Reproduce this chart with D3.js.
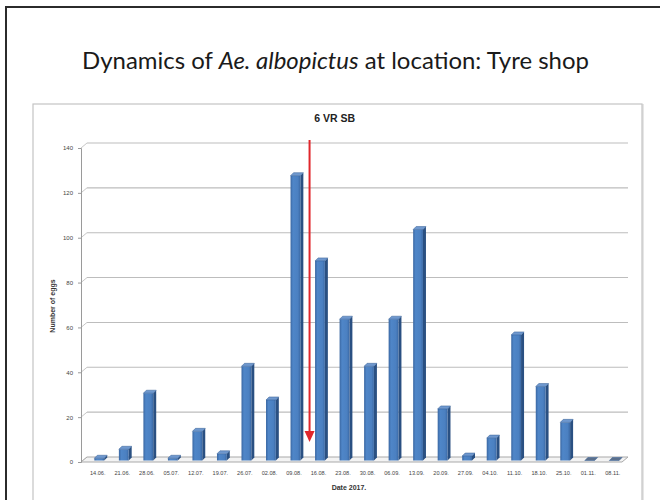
<!DOCTYPE html>
<html>
<head>
<meta charset="utf-8">
<script src="https://cdn.jsdelivr.net/npm/d3@7"></script>
<style>
  html, body { margin: 0; padding: 0; background: #fff; }
  svg { display: block; }
</style>
</head>
<body>
<svg id="chart" width="660" height="500"></svg>
<script>
// Weekly egg counts of Ae. albopictus, ovitrap at the tyre shop, 2017
const dates = ["14.06.", "21.06.", "28.06.", "05.07.", "12.07.", "19.07.", "26.07.", "02.08.",
               "09.08.", "16.08.", "23.08.", "30.08.", "06.09.", "13.09.", "20.09.", "27.09.",
               "04.10.", "11.10.", "18.10.", "25.10.", "01.11.", "08.11."];
const eggs = [1, 5, 30, 1, 13, 3, 42, 27, 127, 89, 63, 42, 63, 103, 23, 2, 10, 56, 33, 17, 0, 0];
const yTicks = [0, 20, 40, 60, 80, 100, 120, 140];
const treatmentDate = "16.08.";
const treatmentLabel = "6 VR SB";

const svg = d3.select("#chart");

// Slide frame and chart box
svg.append("rect").attr("x", 6).attr("y", 7).attr("width", 720).attr("height", 600)
  .attr("fill", "none").attr("stroke", "#2b2b2b").attr("stroke-width", 2);
svg.append("rect").attr("x", 34).attr("y", 105).attr("width", 609).attr("height", 500)
  .attr("fill", "none").attr("stroke", "#e6e6e6").attr("stroke-width", 2);
svg.append("rect").attr("x", 33).attr("y", 104).attr("width", 609).attr("height", 500)
  .attr("fill", "#fff").attr("stroke", "#c4c4c4").attr("stroke-width", 1.2);

// Title with italic species name
const title = svg.append("text")
  .attr("x", 335.5).attr("y", 69)
  .attr("text-anchor", "middle")
  .attr("font-family", "Lato, 'Open Sans', sans-serif")
  .attr("font-size", 20)
  .attr("fill", "#1a1a1a");
title.append("tspan").text("Dynamics of ");
title.append("tspan").attr("font-style", "italic").text("Ae. albopictus");
title.append("tspan").text(" at location: Tyre shop");
const tw = title.node().getComputedTextLength();
title.attr("font-size", 20 * 507 / tw);

// Scales
const x = d3.scaleBand().domain(dates).range([85.5, 625]).paddingInner(0.6).paddingOuter(0.3);
const y = d3.scaleLinear().domain([0, 140]).range([462, 148]);
const bw = x.bandwidth();
const depth = 6;     // wall/floor depth offset
const bd = 3;        // bar depth offset
const axisX = 81;
const rightX = 622;

// Side wall diagonals + back-wall gridlines
const g = svg.append("g");
yTicks.forEach(v => {
  g.append("line")
    .attr("x1", axisX).attr("y1", y(v)).attr("x2", axisX + depth).attr("y2", y(v) - depth + 1)
    .attr("stroke", "#c8c8c8").attr("stroke-width", 1);
  if (v > 0) {
    g.append("line")
      .attr("x1", axisX + depth).attr("y1", y(v) - depth + 1)
      .attr("x2", rightX + depth).attr("y2", y(v) - depth + 1)
      .attr("stroke", "#bdbdbd").attr("stroke-width", 1.1);
  }
});

// Floor
g.append("path")
  .attr("d", `M${axisX},${y(0)} L${rightX},${y(0)} L${rightX + depth},${y(0) - depth + 1} L${axisX + depth},${y(0) - depth + 1} Z`)
  .attr("fill", "#f3f3f3").attr("stroke", "#a9a9a9").attr("stroke-width", 1);

// Y axis
const yAxis = d3.axisLeft(y).tickValues(yTicks).tickSize(3).tickPadding(5);
const ya = svg.append("g").attr("transform", `translate(${axisX},0)`).call(yAxis);
ya.select(".domain").attr("stroke", "#9a9a9a");
ya.selectAll(".tick line").attr("stroke", "#9a9a9a");
ya.selectAll("text").attr("font-family", "'Liberation Sans', Arial, sans-serif")
  .attr("font-size", 6).attr("fill", "#444");

// X axis labels
const xAxis = d3.axisBottom(x).tickSize(0).tickPadding(9);
const xa = svg.append("g").attr("transform", `translate(0,${y(0)})`).call(xAxis);
xa.select(".domain").remove();
xa.selectAll("text").attr("font-family", "'Liberation Sans', Arial, sans-serif")
  .attr("font-size", 5.6).attr("fill", "#444");

// Bar gradient
const defs = svg.append("defs");
const grad = defs.append("linearGradient").attr("id", "barFront").attr("x1", "0").attr("x2", "1").attr("y1", "0").attr("y2", "0");
grad.append("stop").attr("offset", "0%").attr("stop-color", "#3a67a2");
grad.append("stop").attr("offset", "25%").attr("stop-color", "#4f86c8");
grad.append("stop").attr("offset", "75%").attr("stop-color", "#4b80c1");
grad.append("stop").attr("offset", "100%").attr("stop-color", "#3b69a5");

// 3D bars
const ox = 1.5, oy = -1.5;   // bars sit in the middle of the floor depth
const bars = svg.append("g").selectAll("g").data(dates.map((d, i) => ({ d, v: eggs[i] }))).join("g");
bars.append("path")   // side face
  .attr("d", b => {
    const x0 = x(b.d) + bw + ox, yt = y(b.v) + oy, yb = y(0) + oy;
    return `M${x0},${yt} L${x0 + bd},${yt - bd} L${x0 + bd},${yb - bd} L${x0},${yb} Z`;
  })
  .attr("fill", "#2a5082");
bars.append("rect")   // front face
  .attr("x", b => x(b.d) + ox).attr("y", b => y(b.v) + oy)
  .attr("width", bw).attr("height", b => y(0) - y(b.v))
  .attr("fill", "url(#barFront)");
bars.append("path")   // top face
  .attr("d", b => {
    const x0 = x(b.d) + ox, yt = y(b.v) + oy;
    return `M${x0},${yt} L${x0 + bd},${yt - bd} L${x0 + bw + bd},${yt - bd} L${x0 + bw},${yt} Z`;
  })
  .attr("fill", b => b.v === 0 ? "#5a6f8c" : "#6f98ce")
  .attr("stroke", "#345f95").attr("stroke-width", 0.5);

// Axis titles
svg.append("text")
  .attr("transform", "translate(55,306) rotate(-90)")
  .attr("text-anchor", "middle")
  .attr("font-family", "'Liberation Sans', Arial, sans-serif")
  .attr("font-size", 7).attr("font-weight", "bold").attr("fill", "#333")
  .text("Number of eggs");
svg.append("text")
  .attr("x", 349).attr("y", 489.5)
  .attr("text-anchor", "middle")
  .attr("font-family", "'Liberation Sans', Arial, sans-serif")
  .attr("font-size", 7).attr("font-weight", "bold").attr("fill", "#333")
  .text("Date 2017.");

// Treatment marker: red arrow and label
const ax = x(treatmentDate) - 4;
svg.append("line")
  .attr("x1", ax).attr("y1", 140).attr("x2", ax).attr("y2", 434)
  .attr("stroke", "#e0262b").attr("stroke-width", 2);
svg.append("path")
  .attr("d", `M${ax - 5},${431} L${ax + 5},${431} L${ax},${442} Z`)
  .attr("fill", "#e0262b");
svg.append("text")
  .attr("x", ax + 25).attr("y", 122)
  .attr("text-anchor", "middle")
  .attr("font-family", "'Liberation Sans', Arial, sans-serif")
  .attr("font-size", 10.5).attr("font-weight", "bold").attr("fill", "#222")
  .text(treatmentLabel);
</script>
</body>
</html>
